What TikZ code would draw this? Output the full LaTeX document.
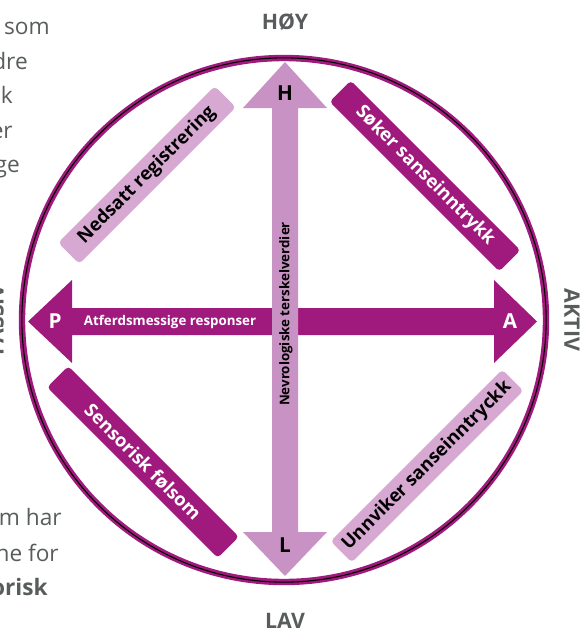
\documentclass[tikz,border=0pt]{standalone}
\usepackage{fontspec}
\setmainfont{Open Sans}
\definecolor{sansemagenta}{RGB}{160,26,125}
\definecolor{sanselys}{RGB}{201,146,196}
\definecolor{sanseboks}{RGB}{215,169,210}
\definecolor{sansegraa}{RGB}{88,92,92}

\begin{document}
\begin{tikzpicture}[x=0.75pt, y=-0.75pt,
  kant/.style={rounded corners=3pt, minimum width=#1, minimum height=22.5pt, inner sep=0pt, font=\bfseries\fontsize{13.8}{16}\selectfont},
  akse/.style={text=sansegraa, inner sep=0pt, font=\bfseries\fontsize{16}{19}\selectfont},
  venstre/.style={anchor=base east, inner sep=0pt, text=sansegraa, font=\fontsize{17}{20}\selectfont},
  bokstav/.style={inner sep=0pt, font=\bfseries\fontsize{15.5}{18}\selectfont}]
\useasboundingbox (0,0) rectangle (579,632);

% tekst i margen
\node[venstre] (t1) at (50,34) {som};
\node[venstre] (t2) at (28,69) {dre};
\node[venstre] (t3) at (13,103) {k};
\node[venstre] (t4) at (13,138) {er};
\node[venstre] (t5) at (20,172) {ge};
\node[venstre] (t6) at (62,525) {m har};
\node[venstre] (t7) at (59,561) {ne for};
\node[venstre, font=\bfseries\fontsize{17}{20}\selectfont] (t8) at (48,595) {orisk};

% sirkelen
\path (284,320) coordinate (midt);
\draw[sansemagenta, line width=4.8pt] (midt) circle[radius=196.5pt];
\draw[black, line width=0.8pt] (midt) circle[radius=196.6pt];

% aksene
\node[akse] (hoy) at (285,22) {HØY};
\node[akse] (lav) at (285,621) {LAV};
\node[akse, rotate=-90] (aktiv) at (572,320) {AKTIV};
\node[akse, rotate=90] (passiv) at (-4,320) {PASSIV};

% pilene
\fill[sansemagenta] (28,321.5) -- ++(44,-41.5) -- ++(0,28) -- ++(422,0) -- ++(0,-28)
  -- ++(43,41.5) -- ++(-43,41.5) -- ++(0,-28) -- ++(-422,0) -- ++(0,28) -- cycle;
\fill[sanselys] (285,62) -- ++(42,46) -- ++(-29,0) -- ++(0,424) -- ++(29,0)
  -- ++(-42,44) -- ++(-42,-44) -- ++(29,0) -- ++(0,-424) -- ++(-29,0) -- cycle;
\node[bokstav, text=white] (p) at (55,321.5) {P};
\node[bokstav, text=white] (a) at (510,321.5) {A};
\node[bokstav] (h) at (285,93) {H};
\node[bokstav] (l) at (285,545) {L};
\node[text=white, inner sep=0pt, font=\bfseries\fontsize{10}{12}\selectfont] (respons) at (170,322) {Atferdsmessige responser};
\node[rotate=90, inner sep=0pt, font=\bfseries\fontsize{10}{12}\selectfont] (terskel) at (286,314) {Nevrologiske terskelverdier};

% boksene
\node[kant=166pt, fill=sanseboks, rotate=45] (nedsatt) at (147,175) {Nedsatt registrering};
\node[kant=180pt, fill=sansemagenta, text=white, rotate=-45] (soker) at (425,176) {Søker sanseinntrykk};
\node[kant=181pt, fill=sansemagenta, text=white, rotate=-45] (sensorisk) at (143,462) {Sensorisk følsom};
\node[kant=182pt, fill=sanseboks, rotate=45] (unnviker) at (427,466) {Unnviker sanseinntryckk};
\end{tikzpicture}
\end{document}
